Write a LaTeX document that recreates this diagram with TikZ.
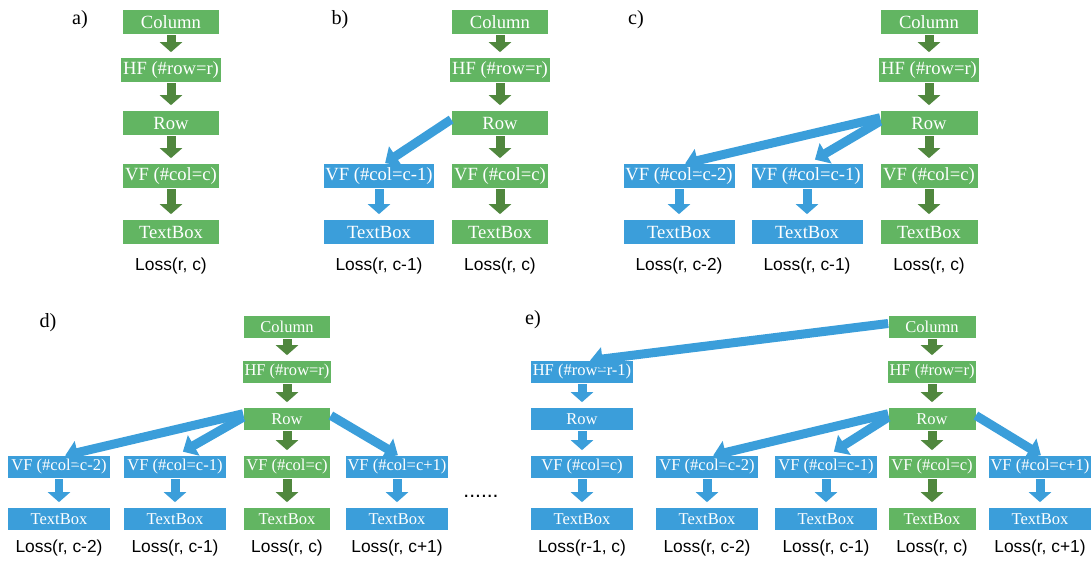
\documentclass[tikz,border=0pt]{standalone}
\usepackage{fontspec}
\setmainfont{Liberation Serif}
\newfontfamily\lossfont{Liberation Sans}
\usepackage{xcolor}
\usepackage{tikz}
\usetikzlibrary{positioning,arrows.meta}

\definecolor{boxgreen}{RGB}{98,181,98}
\definecolor{arrgreen}{RGB}{80,135,62}
\definecolor{boxblue}{RGB}{59,158,218}

\begin{document}
\begin{tikzpicture}[
					x=0.02cm, y=-0.02cm,
					gbox/.style={
						fill=boxgreen, text=white, inner sep=1pt,
						minimum height=0.48cm, minimum width=1.94cm,
						font=\fontsize{10.6}{12}\selectfont
					},
					bbox/.style={gbox, fill=boxblue, minimum width=2.22cm},
					lower/.style={
						minimum height=0.44cm, minimum width=1.74cm,
						font=\fontsize{9.4}{11}\selectfont
					},
					lowerb/.style={lower, minimum width=2.04cm},
					garr/.style={
						draw=arrgreen, line width=0.18cm,
						-{Triangle[width=0.44cm,length=0.2cm]},
						shorten >=0.11cm, shorten <=0.02cm
					},
					varr/.style={garr, draw=boxblue},
					barr/.style={
						draw=boxblue, line width=0.18cm,
						-{Triangle[width=0.46cm,length=0.25cm]},
						shorten >=0.02cm
					},
					loss/.style={font=\lossfont\fontsize{9.9}{12}\selectfont},
					title_label/.style={font=\fontsize{11.5}{13}\selectfont}
					]
					\useasboundingbox (0,0) rectangle (1091,562);
					
					% --- a) ---
					\node[title_label] (a-lab) at (80,20) {a)};
					\node[gbox] (a-col) at (171,22) {Column};
					\node[gbox] (a-hf) at (171,70) {HF (\#row=r)};
					\node[gbox] (a-row) at (171,123) {Row};
					\node[gbox] (a-vf) at (171,176) {VF (\#col=c)};
					\node[gbox] (a-tb) at (171,232) {TextBox};
					\node[loss] (a-loss) at (171,266) {Loss(r, c)};
					\draw[garr] (a-col) -- (a-hf);
					\draw[garr] (a-hf) -- (a-row);
					\draw[garr] (a-row) -- (a-vf);
					\draw[garr] (a-vf) -- (a-tb);
					
					% --- b) ---
					\node[title_label] (b-lab) at (340,20) {b)};
					\node[gbox] (b-col) at (500,22) {Column};
					\node[gbox] (b-hf) at (500,70) {HF (\#row=r)};
					\node[gbox] (b-row) at (500,123) {Row};
					\node[gbox] (b-vf) at (500,176) {VF (\#col=c)};
					\node[gbox] (b-tb) at (500,232) {TextBox};
					\node[loss] (b-loss) at (500,266) {Loss(r, c)};
					\node[bbox] (b-vf1) at (379,176) {VF (\#col=c-1)};
					\node[bbox] (b-tb1) at (379,232) {TextBox};
					\node[loss] (b-loss1) at (379,266) {Loss(r, c-1)};
					\draw[garr] (b-col) -- (b-hf);
					\draw[garr] (b-hf) -- (b-row);
					\draw[garr] (b-row) -- (b-vf);
					\draw[garr] (b-vf) -- (b-tb);
					\draw[varr] (b-vf1) -- (b-tb1);
					\draw[barr] ([yshift=2pt]b-row.west) -- ([xshift=3pt]b-vf1.north);
					
					% --- c) ---
					\node[title_label] (c-lab) at (636,20) {c)};
					\node[gbox] (c-col) at (929,22) {Column};
					\node[gbox] (c-hf) at (929,70) {HF (\#row=r)};
					\node[gbox] (c-row) at (929,123) {Row};
					\node[gbox] (c-vf) at (929,176) {VF (\#col=c)};
					\node[gbox] (c-tb) at (929,232) {TextBox};
					\node[loss] (c-loss) at (929,266) {Loss(r, c)};
					\node[bbox] (c-vf1) at (807,176) {VF (\#col=c-1)};
					\node[bbox] (c-tb1) at (807,232) {TextBox};
					\node[loss] (c-loss1) at (807,266) {Loss(r, c-1)};
					\node[bbox] (c-vf2) at (679,176) {VF (\#col=c-2)};
					\node[bbox] (c-tb2) at (679,232) {TextBox};
					\node[loss] (c-loss2) at (679,266) {Loss(r, c-2)};
					\draw[garr] (c-col) -- (c-hf);
					\draw[garr] (c-hf) -- (c-row);
					\draw[garr] (c-row) -- (c-vf);
					\draw[garr] (c-vf) -- (c-tb);
					\draw[varr] (c-vf1) -- (c-tb1);
					\draw[varr] (c-vf2) -- (c-tb2);
					\draw[barr] ([yshift=3pt]c-row.west) -- ([xshift=3pt]c-vf2.north);
					\draw[barr] ([yshift=1pt]c-row.west) -- ([xshift=4pt,yshift=2pt]c-vf1.north);
					
					% --- d) ---
					\node[title_label] (d-lab) at (48,323) {d)};
					\node[gbox, lower] (d-col) at (287,327) {Column};
					\node[gbox, lower] (d-hf) at (287,372) {HF (\#row=r)};
					\node[gbox, lower] (d-row) at (287,419) {Row};
					\node[gbox, lower] (d-vf) at (287,467) {VF (\#col=c)};
					\node[gbox, lower] (d-tb) at (287,519) {TextBox};
					\node[loss] (d-loss) at (287,548) {Loss(r, c)};
					\node[bbox, lowerb] (d-vf2) at (59,467) {VF (\#col=c-2)};
					\node[bbox, lowerb] (d-tb2) at (59,519) {TextBox};
					\node[loss] (d-loss2) at (59,548) {Loss(r, c-2)};
					\node[bbox, lowerb] (d-vf1) at (175,467) {VF (\#col=c-1)};
					\node[bbox, lowerb] (d-tb1) at (175,519) {TextBox};
					\node[loss] (d-loss1) at (175,548) {Loss(r, c-1)};
					\node[bbox, lowerb] (d-vf3) at (397,467) {VF (\#col=c+1)};
					\node[bbox, lowerb] (d-tb3) at (397,519) {TextBox};
					\node[loss] (d-loss3) at (397,548) {Loss(r, c+1)};
					\node[loss, font=\lossfont\fontsize{12}{14}\selectfont] (d-dots) at (481,496) {......};
					\draw[garr] (d-col) -- (d-hf);
					\draw[garr] (d-hf) -- (d-row);
					\draw[garr] (d-row) -- (d-vf);
					\draw[garr] (d-vf) -- (d-tb);
					\draw[varr] (d-vf2) -- (d-tb2);
					\draw[varr] (d-vf1) -- (d-tb1);
					\draw[varr] (d-vf3) -- (d-tb3);
					\draw[barr] ([yshift=3pt]d-row.west) -- ([xshift=3pt]d-vf2.north);
					\draw[barr] ([yshift=1pt]d-row.west) -- ([xshift=4pt,yshift=2pt]d-vf1.north);
					\draw[barr] ([yshift=2pt]d-row.east) -- ([xshift=1pt]d-vf3.north);
					
					% --- e) ---
					\node[title_label] (e-lab) at (533,320) {e)};
					\node[gbox, lower] (e-col) at (932,327) {Column};
					\node[gbox, lower] (e-hf) at (932,372) {HF (\#row=r)};
					\node[gbox, lower] (e-row) at (932,419) {Row};
					\node[gbox, lower] (e-vf) at (932,467) {VF (\#col=c)};
					\node[gbox, lower] (e-tb) at (932,519) {TextBox};
					\node[loss] (e-loss) at (932,548) {Loss(r, c)};
					\node[bbox, lowerb] (e-hf0) at (582,372) {HF (\#row=r-1)};
					\node[bbox, lowerb] (e-row0) at (582,419) {Row};
					\node[bbox, lowerb] (e-vf0) at (582,467) {VF (\#col=c)};
					\node[bbox, lowerb] (e-tb0) at (582,519) {TextBox};
					\node[loss] (e-loss0) at (582,548) {Loss(r-1, c)};
					\node[bbox, lowerb] (e-vf2) at (707,467) {VF (\#col=c-2)};
					\node[bbox, lowerb] (e-tb2) at (707,519) {TextBox};
					\node[loss] (e-loss2) at (707,548) {Loss(r, c-2)};
					\node[bbox, lowerb] (e-vf1) at (826,467) {VF (\#col=c-1)};
					\node[bbox, lowerb] (e-tb1) at (826,519) {TextBox};
					\node[loss] (e-loss1) at (826,548) {Loss(r, c-1)};
					\node[bbox, lowerb] (e-vf3) at (1040,467) {VF (\#col=c+1)};
					\node[bbox, lowerb] (e-tb3) at (1040,519) {TextBox};
					\node[loss] (e-loss3) at (1040,548) {Loss(r, c+1)};
					\draw[garr] (e-col) -- (e-hf);
					\draw[garr] (e-hf) -- (e-row);
					\draw[garr] (e-row) -- (e-vf);
					\draw[garr] (e-vf) -- (e-tb);
					\draw[varr] (e-hf0) -- (e-row0);
					\draw[varr] (e-row0) -- (e-vf0);
					\draw[varr] (e-vf0) -- (e-tb0);
					\draw[varr] (e-vf2) -- (e-tb2);
					\draw[varr] (e-vf1) -- (e-tb1);
					\draw[varr] (e-vf3) -- (e-tb3);
					\draw[barr] ([yshift=2pt]e-col.west) -- ([xshift=4pt]e-hf0.north);
					\draw[barr] ([yshift=3pt]e-row.west) -- ([xshift=3pt]e-vf2.north);
					\draw[barr] ([yshift=1pt]e-row.west) -- ([xshift=4pt,yshift=2pt]e-vf1.north);
					\draw[barr] ([yshift=2pt]e-row.east) -- ([xshift=1pt]e-vf3.north);
					
				\end{tikzpicture}
\end{document}
